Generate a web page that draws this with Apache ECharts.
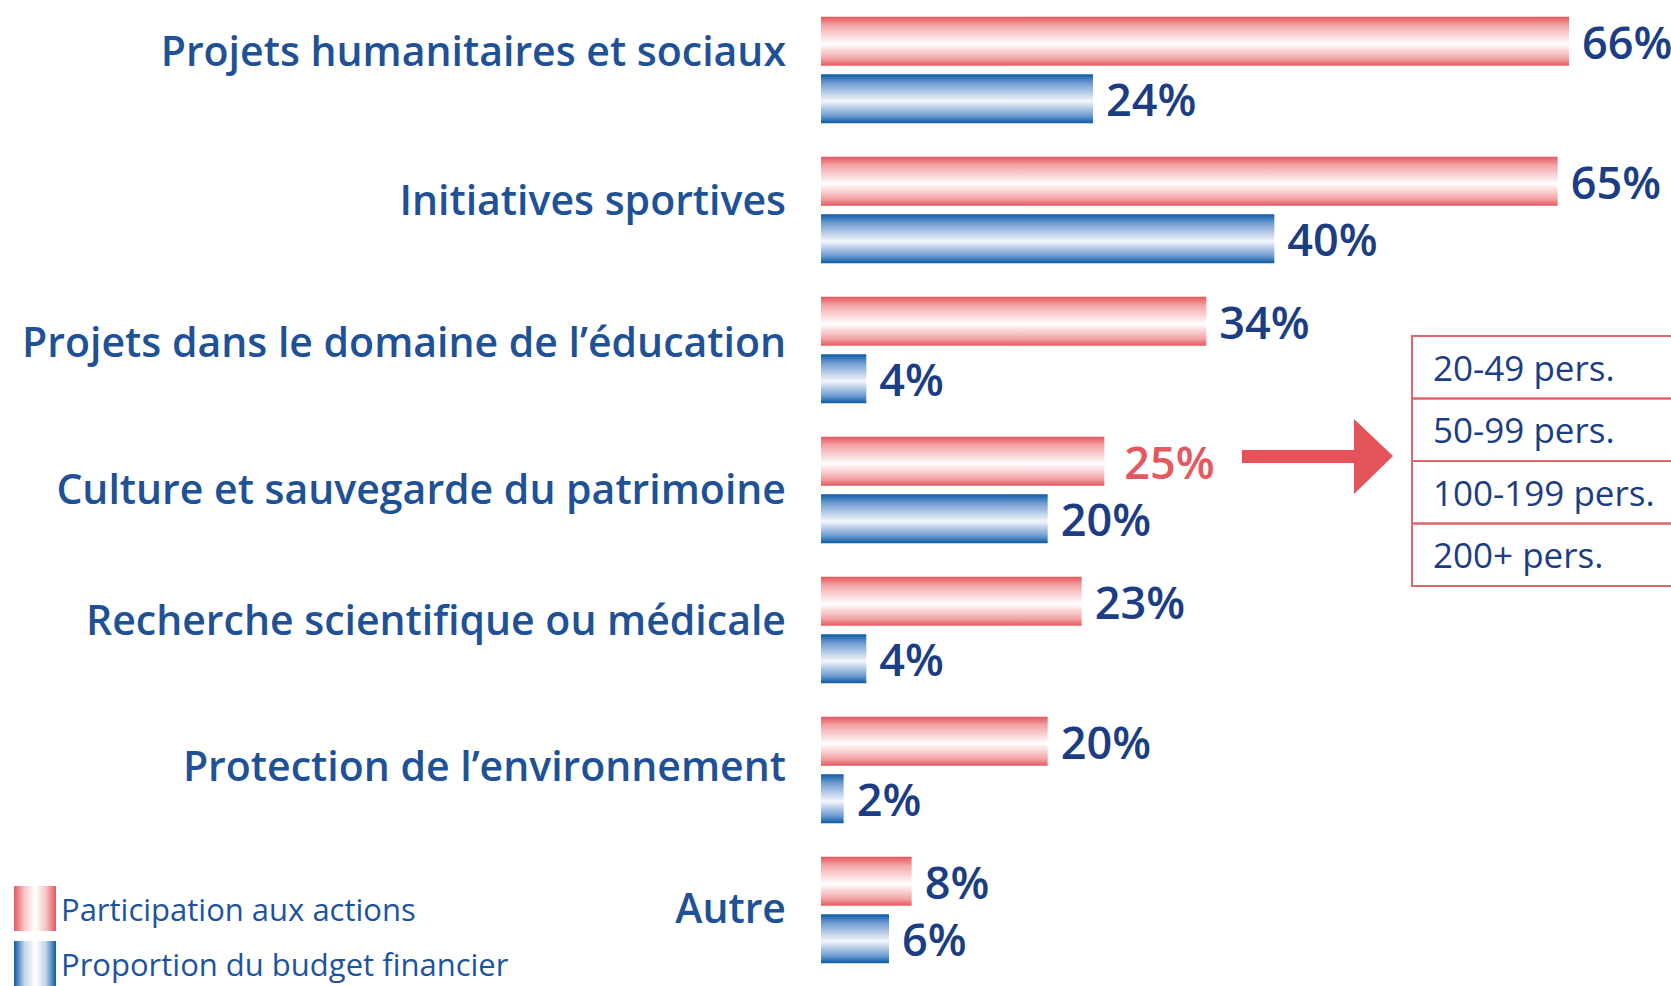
<!DOCTYPE html>
<html>
<head>
<meta charset="utf-8">
<script src="https://cdn.jsdelivr.net/npm/echarts@6/dist/echarts.min.js"></script>
<style>
  html, body { margin: 0; padding: 0; background: #fff; }
  #chart { width: 1671px; height: 986px; }
</style>
</head>
<body>
<div id="chart"></div>
<script>
// categories, top to bottom
var categories = [
  'Projets humanitaires et sociaux',
  'Initiatives sportives',
  'Projets dans le domaine de l\u2019éducation',
  'Culture et sauvegarde du patrimoine',
  'Recherche scientifique ou médicale',
  'Protection de l\u2019environnement',
  'Autre'
];
var seriesNames = ['Participation aux actions', 'Proportion du budget financier'];
var participation = [66, 65, 34, 25, 23, 20, 8];
var budget = [24, 40, 4, 20, 4, 2, 6];
var highlightIndex = 3; // the 25% label drawn in red
var sizeBands = ['20-49 pers.', '50-99 pers.', '100-199 pers.', '200+ pers.'];

var RED = '#e5585f';
var BLUE = '#0b5ba4';
var LABEL_BLUE = '#1b3d84';
// labels in the original sit a little above their pair of bars
var labelLift = [40, 22, 18, 5, 22, 10, 6];

function vGrad(edge, mid, centre) {
  return new echarts.graphic.LinearGradient(0, 0, 0, 1, [
    { offset: 0, color: edge },
    { offset: 0.18, color: mid },
    { offset: 0.55, color: centre },
    { offset: 0.85, color: mid },
    { offset: 1, color: edge }
  ]);
}
function hGrad(edge, mid) {
  return new echarts.graphic.LinearGradient(0, 0, 1, 0, [
    { offset: 0, color: edge },
    { offset: 0.25, color: mid },
    { offset: 0.5, color: '#ffffff' },
    { offset: 0.75, color: mid },
    { offset: 1, color: edge }
  ]);
}

var chart = echarts.init(document.getElementById('chart'), null, { renderer: 'svg' });

var valueLabel = {
  show: true,
  position: 'right',
  distance: 13,
  formatter: '{c}%',
  color: LABEL_BLUE,
  fontFamily: 'Open Sans',
  fontWeight: 600,
  fontSize: 45
};

var participationData = participation.map(function (v, i) {
  if (i === highlightIndex) {
    return { value: v, label: { color: RED, distance: 20 } };
  }
  return v;
});

var catRich = {};
labelLift.forEach(function (h, i) {
  catRich['r' + i] = {
    color: '#1e5196',
    fontFamily: 'Open Sans',
    fontWeight: 600,
    fontSize: 41,
    lineHeight: h
  };
});

// box with company sizes, right of the arrow
var boxLeft = 1412, boxTop = 336, rowH = 62.5;
var boxElems = [];
sizeBands.forEach(function (txt, i) {
  boxElems.push({
    type: 'rect',
    shape: { x: boxLeft, y: boxTop + i * rowH, width: 300, height: rowH },
    style: { fill: 'none', stroke: '#e0646b', lineWidth: 2 }
  });
  boxElems.push({
    type: 'text',
    x: boxLeft + 21,
    y: boxTop + i * rowH + rowH / 2,
    style: {
      text: txt,
      fill: LABEL_BLUE,
      font: '35px "Open Sans"',
      verticalAlign: 'middle'
    }
  });
});

var legendText = { color: '#1c53a0', fontFamily: 'Open Sans', fontSize: 31 };

var option = {
  animation: false,
  backgroundColor: '#ffffff',
  grid: { left: 821, right: 0, top: 0, bottom: 6 },
  legend: [
    {
      left: 9, top: 881,
      itemWidth: 42, itemHeight: 45, itemGap: 10,
      icon: 'rect',
      textStyle: legendText,
      data: [{ name: seriesNames[0], itemStyle: { color: hGrad(RED, '#f7c6c7') } }]
    },
    {
      left: 9, top: 936,
      itemWidth: 42, itemHeight: 45, itemGap: 10,
      icon: 'rect',
      textStyle: legendText,
      data: [{ name: seriesNames[1], itemStyle: { color: hGrad(BLUE, '#c5d5ea') } }]
    }
  ],
  xAxis: {
    type: 'value',
    min: 0,
    max: 75,
    show: false
  },
  yAxis: {
    type: 'category',
    inverse: true,
    data: categories,
    axisLine: { show: false },
    axisTick: { show: false },
    axisLabel: {
      margin: 35,
      verticalAlign: 'bottom',
      formatter: function (val, i) {
        return '{r' + i + '|' + val + '}';
      },
      rich: catRich
    }
  },
  series: [
    {
      name: seriesNames[0],
      type: 'bar',
      barWidth: 49,
      barGap: '17%',
      data: participationData,
      itemStyle: { color: vGrad(RED, '#f3a5a7', '#ffffff') },
      label: valueLabel
    },
    {
      name: seriesNames[1],
      type: 'bar',
      barWidth: 49,
      data: budget,
      itemStyle: { color: vGrad(BLUE, '#6f9bd0', '#f4f6fc') },
      label: valueLabel
    }
  ],
  graphic: [
    {
      type: 'polygon',
      shape: {
        points: [[1242, 450], [1354, 450], [1354, 419], [1393, 456], [1354, 494], [1354, 463], [1242, 463]]
      },
      style: { fill: '#e5535a' }
    }
  ].concat(boxElems)
};

chart.setOption(option);
</script>
</body>
</html>
